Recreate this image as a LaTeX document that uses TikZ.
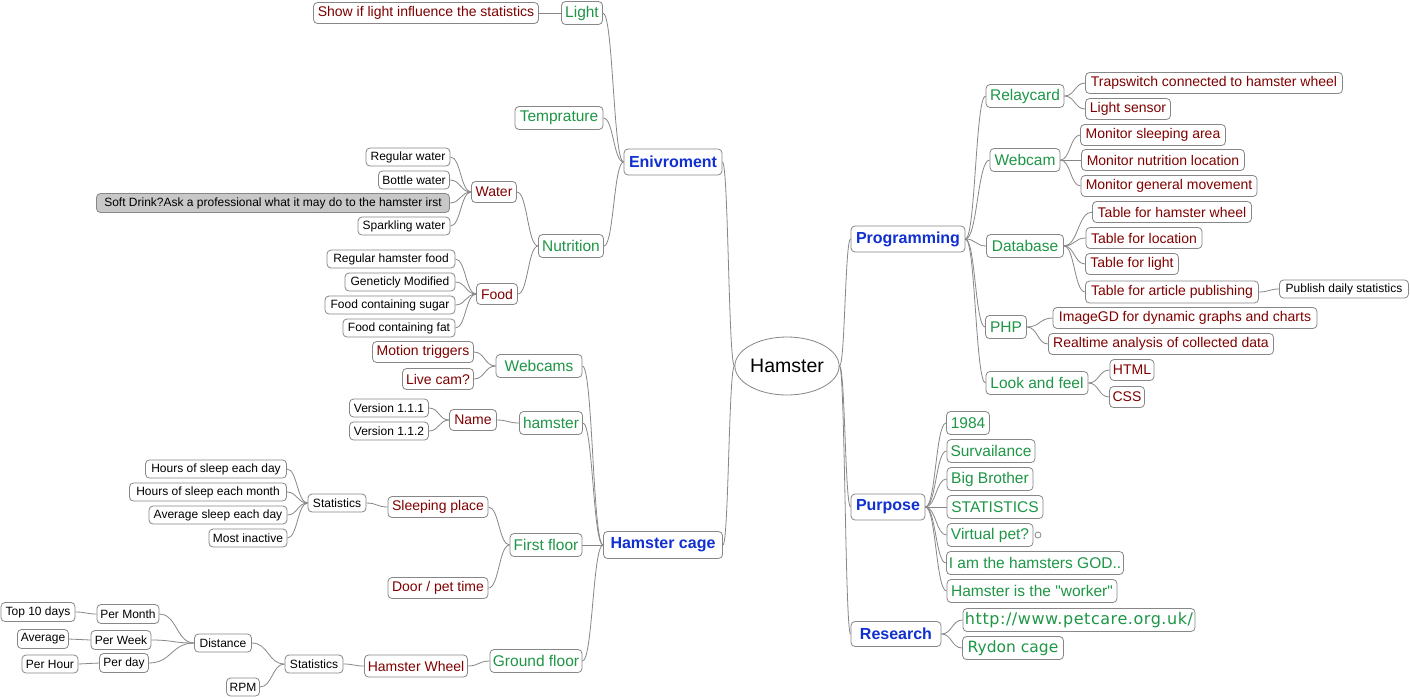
\documentclass[tikz,border=0pt]{standalone}
\usepackage{fontspec}
\setmainfont{Liberation Sans}
\newfontfamily\lsq{Liberation Sans}
\newfontfamily\djv{DejaVu Sans}
\newfontfamily\djvs[LetterSpace=3.5]{DejaVu Sans}
\usetikzlibrary{calc,shapes.geometric}
\definecolor{cblue}{RGB}{16,48,208}
\definecolor{cgreen}{RGB}{30,150,70}
\definecolor{cred}{RGB}{128,0,0}
\definecolor{cline}{RGB}{135,135,135}
\definecolor{cgrayfill}{RGB}{200,200,200}
\newcommand\N[7]{\node[#2, minimum width=#5pt, minimum height=#6pt] (#1) at (#3,#4) {#7};}
\newcommand\cR[2]{\draw[conn] let \p1=(#1.east), \p2=(#2.west) in (\p1) .. controls ({0.5*\x1+0.5*\x2},\y1) and ({0.5*\x1+0.5*\x2},\y2) .. (\p2);}
\newcommand\cL[2]{\draw[conn] let \p1=(#1.west), \p2=(#2.east) in (\p1) .. controls ({0.5*\x1+0.5*\x2},\y1) and ({0.5*\x1+0.5*\x2},\y2) .. (\p2);}
\begin{document}
\begin{tikzpicture}[x=1pt,y=-1pt,
  box/.style={draw=cline, rounded corners=4pt, line width=0.8pt, fill=white, inner sep=1pt},
  mainb/.style={box, text=cblue, font=\fontsize{16}{18}\selectfont\bfseries},
  grn/.style={box, text=cgreen, font=\fontsize{15.5}{17}\selectfont},
  grnw/.style={box, text=cgreen, font=\djv\fontsize{15.5}{17}\selectfont},
  grnu/.style={box, text=cgreen, font=\djvs\fontsize{16}{18}\selectfont},
  red/.style={box, text=cred, font=\fontsize{14}{16}\selectfont},
  blk/.style={box, text=black, font=\fontsize{12}{14}\selectfont},
  blkg/.style={blk, fill=cgrayfill},
  rootn/.style={draw=cline, ellipse, line width=0.8pt, fill=white, inner sep=0pt, font=\fontsize{19.5}{21}\selectfont},
  conn/.style={draw=cline, line width=0.8pt}
]
\useasboundingbox (0,0) rectangle (1410,697);
\fill[white] (0,0) rectangle (1410,697);
% root
\node[rootn, minimum width=86pt, minimum height=58pt] (root) at (787,366) {Hamster};
% ---------- left: Enivroment
\N{env}{mainb}{673}{162}{98}{26}{Enivroment}
\N{light}{grn}{582}{13}{41}{23}{Light}
\N{lightinf}{red}{426}{13}{225}{21}{Show if light influence the statistics}
\N{temp}{grn}{559}{118}{88}{23}{Temprature}
\N{nut}{grn}{571}{246}{65}{23}{Nutrition}
\N{water}{red}{494}{192}{45}{21}{Water}
\N{rw}{blk}{408}{157}{84}{18}{Regular water}
\N{bw}{blk}{414}{180}{71}{18}{Bottle water}
\N{sd}{blkg}{273}{203}{353}{19}{Soft Drink?Ask a professional what it may do to the hamster irst}
\N{sw}{blk}{404}{226}{92}{18}{Sparkling water}
\N{food}{red}{497}{294}{41}{21}{Food}
\N{rhf}{blk}{391}{259}{128}{18}{Regular hamster food}
\N{gm}{blk}{400}{282}{110}{18}{Geneticly Modified}
\N{fcs}{blk}{390}{305}{130}{18}{Food containing sugar}
\N{fcf}{blk}{399}{328}{112}{18}{Food containing fat}
% ---------- left: Hamster cage
\N{cage}{mainb}{663}{545}{119}{27}{Hamster cage}
\N{webcams}{grn}{539}{366}{86}{23}{Webcams}
\N{motion}{red}{423}{352}{101}{21}{Motion triggers}
\N{livecam}{red}{438}{379}{71}{21}{Live cam?}
\N{hamn}{grn}{551}{423}{63}{23}{hamster}
\N{name}{red}{473}{420}{47}{21}{Name}
\N{v111}{blk}{389}{408}{79}{18}{Version 1.1.1}
\N{v112}{blk}{389}{431}{79}{18}{Version 1.1.2}
\N{ff}{grn}{546}{545}{72}{23}{First floor}
\N{sleep}{red}{438}{507}{100}{21}{Sleeping place}
\N{stat1}{blk}{337}{503}{58}{18}{Statistics}
\N{hsd}{blk}{216}{469}{141}{18}{Hours of sleep each day}
\N{hsm}{blk}{208}{492}{157}{18}{Hours of sleep each month}
\N{asd}{blk}{218}{515}{138}{18}{Average sleep each day}
\N{mi}{blk}{248}{538}{78}{18}{Most inactive}
\N{door}{red}{438}{588}{100}{21}{Door / pet time}
\N{gf}{grn}{536}{661}{92}{23}{Ground floor}
\N{wheel}{red}{416}{666}{103}{22}{Hamster Wheel}
\N{stat2}{blk}{314}{664}{58}{18}{Statistics}
\N{dist}{blk}{223}{643}{57}{18}{Distance}
\N{rpm}{blk}{243}{687}{33}{18}{RPM}
\N{pmonth}{blk}{128}{614}{62}{19}{Per Month}
\N{pweek}{blk}{121}{640}{60}{19}{Per Week}
\N{pday}{blk}{124}{663}{49}{19}{Per day}
\N{top10}{blk}{38}{612}{74}{19}{Top 10 days}
\N{avg}{blk}{43}{639}{51}{19}{Average}
\N{phour}{blk}{50}{664}{56}{18}{Per Hour}
% ---------- right: Programming
\N{prog}{mainb}{908}{239}{114}{26}{Programming}
\N{relay}{grn}{1025}{96}{78}{23}{Relaycard}
\N{trap}{red}{1214}{83}{257}{21}{Trapswitch connected to hamster wheel}
\N{lsens}{red}{1128}{109}{85}{21}{Light sensor}
\N{webcam}{grn}{1025}{160}{70}{23}{Webcam}
\N{msa}{red}{1153}{135}{145}{21}{Monitor sleeping area}
\N{mnl}{red}{1163}{160}{163}{21}{Monitor nutrition location}
\N{mgm}{red}{1169}{186}{176}{21}{Monitor general movement}
\N{db}{grn}{1025}{246}{77}{23}{Database}
\N{thw}{red}{1172}{212}{159}{21}{Table for hamster wheel}
\N{tloc}{red}{1144}{238}{116}{21}{Table for location}
\N{tlight}{red}{1132}{264}{93}{21}{Table for light}
\N{tart}{red}{1172}{292}{173}{22}{Table for article publishing}
\N{pds}{blk}{1344}{289}{129}{18}{Publish daily statistics}
\N{php}{grn}{1006}{327}{41}{23}{PHP}
\N{imgd}{red}{1185}{318}{264}{21}{ImageGD for dynamic graphs and charts}
\N{rt}{red}{1161}{344}{225}{21}{Realtime analysis of collected data}
\N{laf}{grn}{1037}{383}{102}{23}{Look and feel}
\N{html}{red}{1132}{370}{44}{21}{HTML}
\N{css}{red}{1127}{397}{35}{21}{CSS}
% ---------- right: Purpose
\N{purpose}{mainb}{888}{507}{74}{26}{Purpose}
\N{p1984}{grn}{968}{423}{43}{23}{1984}
\N{surv}{grn}{991}{451}{88}{23}{Survailance}
\N{bb}{grn}{990}{479}{86}{23}{Big Brother}
\N{stats}{grn}{995}{507}{96}{23}{STATISTICS}
\N{vpet}{grn}{990}{535}{86}{23}{Virtual pet?}
\N{god}{grn}{1035}{563}{177}{23}{I am the hamsters GOD..}
\N{worker}{grn}{1032}{591}{170}{23}{Hamster is the {\lsq"}worker{\lsq"}}
\node[draw=cline, circle, line width=0.8pt, inner sep=0pt, minimum size=6pt] (vfold) at (1038,535) {};
% ---------- right: Research
\N{research}{mainb}{896}{634}{90}{25}{Research}
\N{url}{grnu}{1079}{620}{232}{23}{http://www.petcare.org.uk/}
\N{rydon}{grnw}{1013}{648}{101}{23}{Rydon cage}
% ================= connectors
\cL{root}{env}
\cL{root}{cage}
\cR{root}{prog}
\cR{root}{purpose}
\cR{root}{research}
% Enivroment
\cL{env}{light}
\cL{env}{temp}
\cL{env}{nut}
\cL{light}{lightinf}
\cL{nut}{water}
\cL{nut}{food}
\cL{water}{rw}
\cL{water}{bw}
\cL{water}{sd}
\cL{water}{sw}
\cL{food}{rhf}
\cL{food}{gm}
\cL{food}{fcs}
\cL{food}{fcf}
% Hamster cage
\cL{cage}{webcams}
\cL{cage}{hamn}
\cL{cage}{ff}
\cL{cage}{gf}
\cL{webcams}{motion}
\cL{webcams}{livecam}
\cL{hamn}{name}
\cL{name}{v111}
\cL{name}{v112}
\cL{ff}{sleep}
\cL{ff}{door}
\cL{sleep}{stat1}
\cL{stat1}{hsd}
\cL{stat1}{hsm}
\cL{stat1}{asd}
\cL{stat1}{mi}
\cL{gf}{wheel}
\cL{wheel}{stat2}
\cL{stat2}{dist}
\cL{stat2}{rpm}
\cL{dist}{pmonth}
\cL{dist}{pweek}
\cL{dist}{pday}
\cL{pmonth}{top10}
\cL{pweek}{avg}
\cL{pday}{phour}
% Programming
\cR{prog}{relay}
\cR{prog}{webcam}
\cR{prog}{db}
\cR{prog}{php}
\cR{prog}{laf}
\cR{relay}{trap}
\cR{relay}{lsens}
\cR{webcam}{msa}
\cR{webcam}{mnl}
\cR{webcam}{mgm}
\cR{db}{thw}
\cR{db}{tloc}
\cR{db}{tlight}
\cR{db}{tart}
\cR{tart}{pds}
\cR{php}{imgd}
\cR{php}{rt}
\cR{laf}{html}
\cR{laf}{css}
% Purpose
\cR{purpose}{p1984}
\cR{purpose}{surv}
\cR{purpose}{bb}
\cR{purpose}{stats}
\cR{purpose}{vpet}
\cR{purpose}{god}
\cR{purpose}{worker}
% Research
\cR{research}{url}
\cR{research}{rydon}
\end{tikzpicture}
\end{document}
